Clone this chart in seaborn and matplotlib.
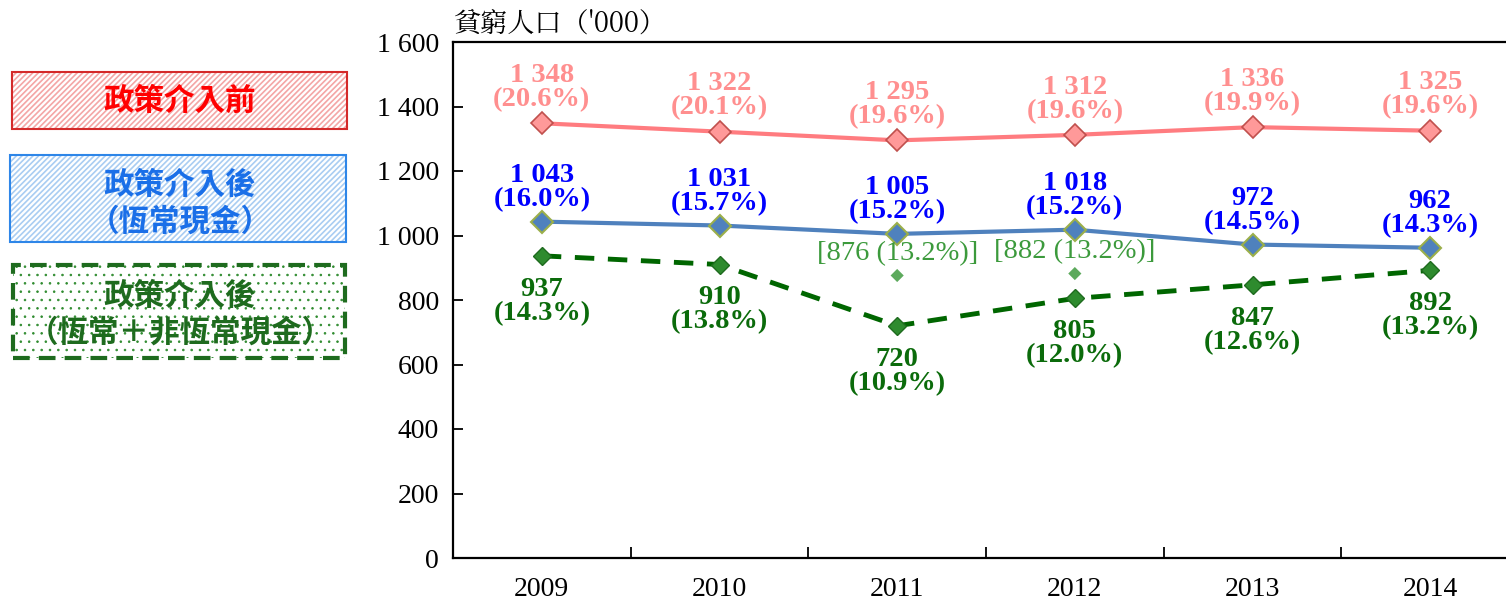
import numpy as np
import pandas as pd
import matplotlib
matplotlib.use("Agg")
import matplotlib.pyplot as plt
from matplotlib.patches import Rectangle
import seaborn as sns

# data
yillar = ["2009", "2010", "2011", "2012", "2013", "2014"]
oncesi = [1348, 1322, 1295, 1312, 1336, 1325]
oncesi_pct = [20.6, 20.1, 19.6, 19.6, 19.9, 19.6]
sonrasi = [1043, 1031, 1005, 1018, 972, 962]
sonrasi_pct = [16.0, 15.7, 15.2, 15.2, 14.5, 14.3]
sonrasi2 = [937, 910, 720, 805, 847, 892]
sonrasi2_pct = [14.3, 13.8, 10.9, 12.0, 12.6, 13.2]
ek_yillar = ["2011", "2012"]
ek_deger = [876, 882]
ek_pct = [13.2, 13.2]
y_ticks = [0, 200, 400, 600, 800, 1000, 1200, 1400, 1600]
legend_text = ["政策介入前", "政策介入後\n（恆常現金）", "政策介入後\n（恆常＋非恆常現金）"]

sns.set_style("ticks")
serif = ["Liberation Serif", "DejaVu Serif"]
cjk = ["Noto Sans CJK TC", "DejaVu Sans"]
plt.rcParams["font.family"] = serif
plt.rcParams["hatch.linewidth"] = 1.2
plt.rcParams["text.color"] = "black"
plt.rcParams["xtick.color"] = "black"
plt.rcParams["ytick.color"] = "black"

W, H = 1506, 603
fig = plt.figure(figsize=(W / 100, H / 100), dpi=100)
ax = fig.add_axes([453 / W, 1 - 558 / H, (1519 - 453) / W, (558 - 42) / H])

df = pd.DataFrame({"yil": yillar, "once": oncesi, "sonra": sonrasi, "sonra2": sonrasi2})
x = np.arange(len(yillar))
idx = {y: i for i, y in enumerate(yillar)}

sns.lineplot(x=x, y=df["once"], ax=ax, color="#FF7C80", lw=3,
             marker="D", markersize=11, markerfacecolor="#FF9999",
             markeredgecolor="#C0504D", markeredgewidth=1.2)
sns.lineplot(x=x, y=df["sonra"], ax=ax, color="#4F81BD", lw=3,
             marker="D", markersize=11, markerfacecolor="#4F81BD",
             markeredgecolor="#9BAF4A", markeredgewidth=1.5)
sns.lineplot(x=x, y=df["sonra2"], ax=ax, color="#006600", lw=3.5,
             linestyle=(0, (4, 2.8)), marker="D", markersize=9,
             markerfacecolor="#2E8B2E", markeredgecolor="#1E6B1E", markeredgewidth=1)
sns.scatterplot(x=[idx[y] for y in ek_yillar], y=ek_deger, ax=ax, marker="D",
                s=45, color="#5DAA5D", edgecolor="none")

def fmt(v):
    return f"{v:,}".replace(",", " ")

for i in range(len(yillar)):
    ax.annotate(f"{fmt(oncesi[i])}\n({oncesi_pct[i]:.1f}%)", (x[i], oncesi[i]),
                xytext=(0, 8), textcoords="offset points", ha="center", va="bottom",
                fontsize=20.5, fontweight="bold", color="#FF8F8F", linespacing=0.95)
    ax.annotate(f"{fmt(sonrasi[i])}\n({sonrasi_pct[i]:.1f}%)", (x[i], sonrasi[i]),
                xytext=(0, 7), textcoords="offset points", ha="center", va="bottom",
                fontsize=20.5, fontweight="bold", color="#0000FF", linespacing=0.95)
    ax.annotate(f"{fmt(sonrasi2[i])}\n({sonrasi2_pct[i]:.1f}%)", (x[i], sonrasi2[i]),
                xytext=(0, -15), textcoords="offset points", ha="center", va="top",
                fontsize=20.5, fontweight="bold", color="#0B6B0B", linespacing=0.95)
for y, v, p in zip(ek_yillar, ek_deger, ek_pct):
    ax.annotate(f"[{v} ({p:.1f}%)]", (idx[y], v), xytext=(0, 7),
                textcoords="offset points", ha="center", va="bottom",
                fontsize=20.5, color="#3C9A3C")

ax.set_xlim(-0.5, 5.5)
ax.set_ylim(0, 1600)
ax.set_yticks(y_ticks)
ax.set_yticklabels([fmt(t) for t in y_ticks], fontsize=20)
ax.set_xticks(x)
ax.set_xticklabels(yillar, fontsize=20)
ax.set_xticks(np.arange(0.5, 5.5, 1), minor=True)
ax.tick_params(axis="x", which="major", length=0, pad=14)
ax.tick_params(axis="x", which="minor", direction="in", length=8, width=1.3)
ax.tick_params(axis="y", direction="in", length=7, width=1.3, pad=10)
ax.set_xlabel("")
ax.set_ylabel("")
for s in ax.spines.values():
    s.set_linewidth(1.6)
    s.set_color("black")

fig.text(453 / W, 1 - 24 / H, "貧窮人口（'000）", family=["Noto Serif CJK TC", "Noto Sans CJK TC", "Liberation Serif"],
         fontsize=19.5, ha="left", va="center")

# legend boxes
def kutu(x0, y0, x1, y1, hatch, hatch_col, edge_col, ls="-", lw=1.5, hlw=1.2):
    plt.rcParams["hatch.linewidth"] = hlw
    fig.add_artist(Rectangle((x0 / W, 1 - y1 / H), (x1 - x0) / W, (y1 - y0) / H,
                             transform=fig.transFigure, facecolor="white",
                             edgecolor=hatch_col, hatch=hatch, lw=0))
    fig.add_artist(Rectangle((x0 / W, 1 - y1 / H), (x1 - x0) / W, (y1 - y0) / H,
                             transform=fig.transFigure, fill=False,
                             edgecolor=edge_col, lw=lw, linestyle=ls))

kutu(12, 72, 347, 129, "//////", "#F4A6A6", "#D42A2A")
kutu(10, 155, 346, 242, "//////", "#A9CDF2", "#2E86E8")
kutu(13, 265, 345, 358, "..", "#2E8B2E", "#1E6B1E", ls=(0, (4, 2.2)), lw=3, hlw=0.6)

fig.text(180 / W, 1 - 101 / H, legend_text[0], family=cjk, fontsize=22,
         fontweight="bold", color="#FF0000", ha="center", va="center")
fig.text(180 / W, 1 - 203 / H, legend_text[1], family=cjk, fontsize=22,
         fontweight="bold", color="#1A6FE8", ha="center", va="center", linespacing=1.2)
fig.text(180 / W, 1 - 314 / H, legend_text[2], family=cjk, fontsize=22,
         fontweight="bold", color="#1E6B1E", ha="center", va="center", linespacing=1.2)

fig.savefig("out.png", dpi=100)
